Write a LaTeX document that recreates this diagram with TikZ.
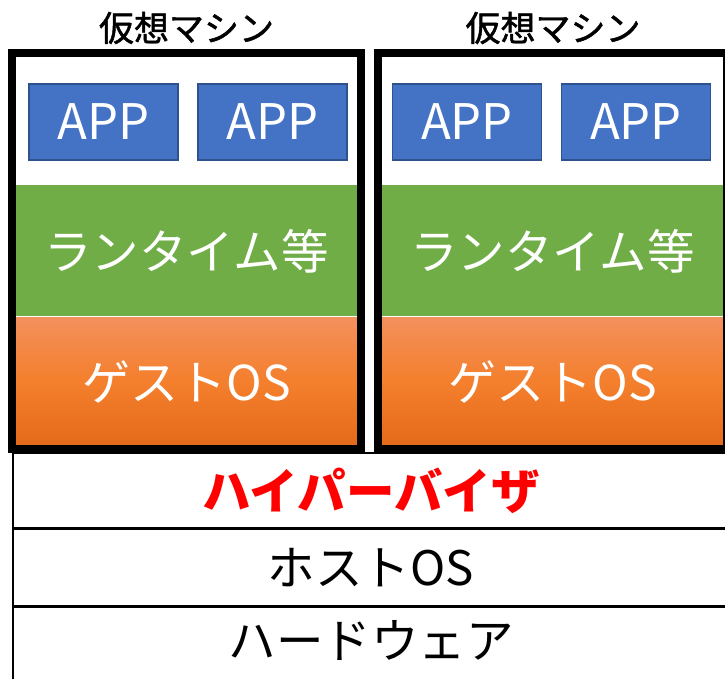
\documentclass[tikz,border=0pt]{standalone}
\usepackage{fontspec}
\newfontfamily\jp{Noto Sans CJK JP}
\newfontfamily\jpm[FakeBold=1.3]{Noto Sans CJK JP}
\definecolor{appblue}{HTML}{4472C4}
\definecolor{appedge}{HTML}{2F528F}
\definecolor{rtgreen}{HTML}{70AD47}
\definecolor{ostop}{HTML}{F3905C}
\definecolor{osmid}{HTML}{F47F2C}
\definecolor{osbot}{HTML}{E46A1A}
\definecolor{hvred}{HTML}{FF0000}
\tikzset{
  appbox/.style={draw=appedge, line width=1.2pt, fill=appblue, minimum width=149pt, minimum height=76pt, inner sep=0pt, text=white, font=\jp\fontsize{49}{49}\selectfont},
  toplayer/.style={fill=white, minimum width=341pt, minimum height=130pt, inner sep=0pt},
  rtlayer/.style={fill=rtgreen, minimum width=341pt, minimum height=131pt, inner sep=0pt, text=white, font=\jp\fontsize{47.5}{47.5}\selectfont},
  oslayer/.style={top color=ostop, bottom color=osbot, middle color=osmid, minimum width=341pt, minimum height=128pt, inner sep=0pt, text=white, font=\jp\fontsize{48}{48}\selectfont},
  vmframe/.style={draw=black, line width=8pt, minimum width=349pt, minimum height=396pt, inner sep=0pt},
  vmtitle/.style={font=\jpm\fontsize{35}{35}\selectfont, text=black},
  baselayer/.style={draw=black, line width=1.5pt, minimum width=716pt, inner sep=0pt, font=\jp\fontsize{47.5}{47.5}\selectfont},
}
\begin{document}
\begin{tikzpicture}[x=1pt,y=1pt]
\useasboundingbox (0,0) rectangle (725,678);
\clip (0,0) rectangle (725,678);
\fill[white] (0,0) rectangle (725,678);
% base stack
\node[baselayer, minimum height=75pt, text=hvred, font=\jp\bfseries\fontsize{48.5}{48.5}\selectfont] (hv) at (371,187.5) {ハイパーバイザ};
\node[baselayer, minimum height=76pt, anchor=north] (host) at (hv.south) {ホストOS};
\node[baselayer, minimum height=80pt, anchor=north] (hw) at (host.south) {};
\node[font=\jp\fontsize{47.5}{47.5}\selectfont] (hwt) at (371,38) {ハードウェア};
% left VM
\node[toplayer] (top1) at (186.5,556) {};
\node[rtlayer] (rt1) at (186.5,427) {ランタイム等};
\node[oslayer] (os1) at (186.5,296) {ゲストOS};
\node[appbox] (a11) at (103.5,556) {APP};
\node[appbox] (a12) at (272.5,556) {APP};
\node[vmframe] (vm1) at (186.5,427) {};
\node[vmtitle] (t1) at (186.5,650) {仮想マシン};
% right VM
\node[toplayer] (top2) at (552.5,556) {};
\node[rtlayer] (rt2) at (552.5,427) {ランタイム等};
\node[oslayer] (os2) at (552.5,296) {ゲストOS};
\node[appbox] (a21) at (467,556) {APP};
\node[appbox] (a22) at (636,556) {APP};
\node[vmframe] (vm2) at (552.5,427) {};
\node[vmtitle] (t2) at (553,650) {仮想マシン};
\end{tikzpicture}
\end{document}
